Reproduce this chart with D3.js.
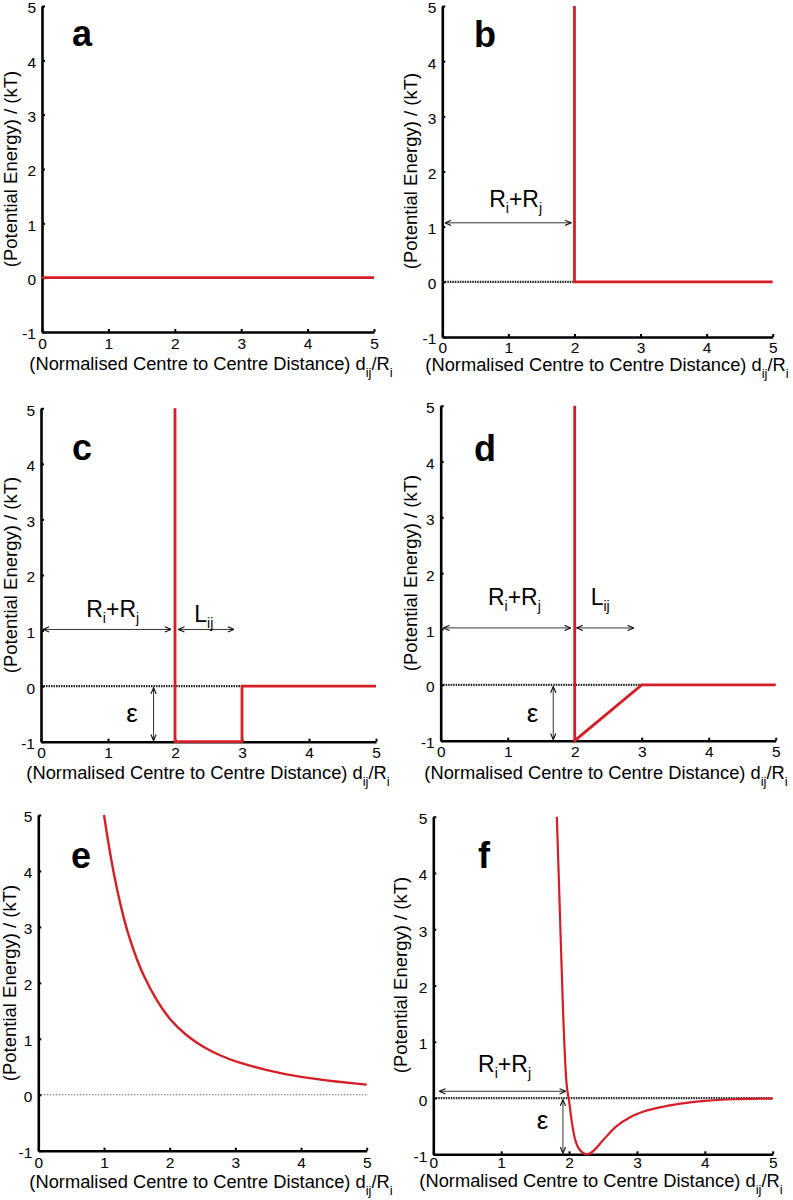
<!DOCTYPE html>
<html><head><meta charset="utf-8">
<script src="https://cdn.jsdelivr.net/npm/d3@7"></script>
<style>
body{margin:0;background:#fff}
svg{display:block}
text{font-family: Arial, "Liberation Sans", Helvetica, sans-serif; fill:#000}
</style>
</head><body>
<svg id="chart" width="793" height="1200"></svg>
<script>
// ---------- data ----------
const xTicks = [0, 1, 2, 3, 4, 5];
const yTicks = [-1, 0, 1, 2, 3, 4, 5];
const panelLetters = ["a", "b", "c", "d", "e", "f"];
const xTitleMain = "(Normalised Centre to Centre Distance) d";
const yTitle = "(Potential Energy) / (kT)";

// a: no interaction
const aX = [0, 5];
const aY = [0, 0];
// b: hard sphere
const bX = [2, 2, 5];
const bY = [5, 0, 0];
// c: square well
const cX = [2, 2, 3, 3, 5];
const cY = [5, -1, -1, 0, 0];
// d: linear well
const dX = [2, 2, 3, 5];
const dY = [5, -1, 0, 0];
// e: soft repulsion
const eX = [1, 1.1, 1.2, 1.3, 1.4, 1.5, 1.6, 1.8, 2.0, 2.25, 2.5, 2.75, 3.0, 3.5, 4.0, 4.5, 5.0];
const eY = [5, 4.25, 3.65, 3.15, 2.75, 2.42, 2.13, 1.68, 1.34, 1.06, 0.86, 0.71, 0.59, 0.43, 0.31, 0.24, 0.18];
// f: Lennard-Jones-like
const fX = [1.82, 1.87, 1.91, 1.96, 2.0, 2.05, 2.1, 2.2, 2.27, 2.35, 2.5, 2.7, 2.9, 3.1, 3.4, 3.7, 4.0, 4.5, 5.0];
const fY = [5, 3.1, 1.6, 0.3, -0.05, -0.5, -0.78, -0.97, -1.0, -0.95, -0.75, -0.5, -0.34, -0.24, -0.15, -0.09, -0.05, -0.02, -0.01];

// extent of dotted zero reference line per panel
const zeroA = null;
const zeroB = [0, 2];
const zeroC = [0, 3];
const zeroD = [0, 3];
const zeroE = [0, 5];
const zeroF = [0, 5];

// ---------- layout ----------
const RED = "#d41f26";
const panels = [
  {xs: aX, ys: aY, zero: zeroA, box: [42, 374, 6, 332], xpad: 6.4, xt: [211, 370], yt: [17, 169], let: [72, 46], lw: 2.8, zw: 2, curve: d3.curveLinear,
   arrows: [], labels: []},
  {xs: bX, ys: bY, zero: zeroB, box: [442.3, 772.7, 6, 337], xpad: 5, xt: [607, 371], yt: [417, 171], let: [474, 47], lw: 2.8, zw: 2.2, curve: d3.curveLinear,
   arrows: [[0.04, 1.07, 1.95, 1.07]],
   labels: [["RR", 1.11, 1.35]]},
  {xs: cX, ys: cY, zero: zeroC, box: [41, 376, 408.3, 741.7], xpad: 5, xt: [208, 779], yt: [17, 575], let: [72, 460], lw: 2.8, zw: 2.2, curve: d3.curveLinear,
   arrows: [[0.03, 1.02, 1.94, 1.02], [2.05, 1.02, 2.88, 1.02], [1.68, -0.03, 1.68, -0.98]],
   labels: [["RR", 1.07, 1.24], ["L", 2.43, 1.15], ["E", 1.36, -0.65]]},
  {xs: dX, ys: dY, zero: zeroD, box: [440.7, 775.7, 405.7, 740.7], xpad: 5, xt: [606, 779], yt: [417, 573], let: [474, 461], lw: 2.8, zw: 2.2, curve: d3.curveLinear,
   arrows: [[0.04, 1.02, 1.94, 1.02], [2.03, 1.02, 2.88, 1.02], [1.68, -0.03, 1.68, -0.98]],
   labels: [["RR", 1.10, 1.43], ["L", 2.38, 1.43], ["E", 1.37, -0.66]]},
  {xs: eX, ys: eY, zero: zeroE, box: [38.3, 366.7, 815, 1150.7], xpad: 6, xt: [211, 1188], yt: [16, 983], let: [71, 868], lw: 2.4, zw: 1.1, curve: d3.curveBasis,
   arrows: [], labels: []},
  {xs: fX, ys: fY, zero: zeroF, box: [433.3, 772.7, 816.7, 1154.3], xpad: 3, xt: [601, 1187], yt: [407, 975], let: [478, 868], lw: 2.2, zw: 2.2, curve: d3.curveMonotoneX,
   arrows: [[0.09, 0.12, 1.95, 0.12], [1.91, -0.03, 1.91, -0.98]],
   labels: [["RR", 1.05, 0.46], ["E", 1.61, -0.55]]}
];

const svg = d3.select("#chart");
const defs = svg.append("defs");
defs.append("marker").attr("id", "arr")
  .attr("viewBox", "0 0 8 8").attr("refX", 7.5).attr("refY", 4)
  .attr("markerUnits", "userSpaceOnUse").attr("markerWidth", 7).attr("markerHeight", 7)
  .attr("orient", "auto-start-reverse")
  .append("path").attr("d", "M0.5,1 L7.5,4 L0.5,7")
  .attr("fill", "none").attr("stroke", "#111").attr("stroke-width", 1.3);

panels.forEach((p, i) => {
  const x = d3.scaleLinear().domain([0, 5]).range([p.box[0], p.box[1]]);
  const y = d3.scaleLinear().domain([-1, 5]).range([p.box[3], p.box[2]]);
  const g = svg.append("g");

  // dotted zero line
  if (p.zero) {
    g.append("line")
      .attr("x1", x(p.zero[0])).attr("x2", x(p.zero[1]))
      .attr("y1", y(0)).attr("y2", y(0))
      .attr("stroke", "#222").attr("stroke-width", p.zw)
      .attr("stroke-dasharray", p.zw > 1.5 ? "1.5,1" : "1,2");
  }

  // axes
  const xa = g.append("g").attr("transform", `translate(0,${p.box[3]})`)
    .call(d3.axisBottom(x).tickValues(xTicks).tickSizeInner(-3).tickSizeOuter(0).tickPadding(p.xpad).tickFormat(d3.format("d")));
  const ya = g.append("g").attr("transform", `translate(${p.box[0]},0)`)
    .call(d3.axisLeft(y).tickValues(yTicks).tickSizeInner(-3).tickSizeOuter(0).tickPadding(6).tickFormat(d => d < 0 ? "-" + Math.abs(d) : d));
  [xa, ya].forEach(a => {
    a.select(".domain").attr("stroke", "#000").attr("stroke-width", 2.6);
    a.selectAll(".tick line").attr("stroke", "#000").attr("stroke-width", 2);
    a.selectAll(".tick text").attr("font-size", 15.5).attr("font-family", "Arial, 'Liberation Sans', sans-serif").attr("fill", "#111");
  });
  ya.selectAll(".tick text").attr("dy", "0.45em");

  // annotation arrows
  p.arrows.forEach(a => {
    g.append("line")
      .attr("x1", x(a[0])).attr("y1", y(a[1])).attr("x2", x(a[2])).attr("y2", y(a[3]))
      .attr("stroke", "#333").attr("stroke-width", 1)
      .attr("marker-start", "url(#arr)").attr("marker-end", "url(#arr)");
  });

  // annotation labels
  p.labels.forEach(l => {
    if (l[0] === "RR") {
      const t = g.append("text").attr("x", x(l[1])).attr("y", y(l[2])).attr("text-anchor", "middle").attr("font-size", 23);
      t.append("tspan").text("R");
      t.append("tspan").attr("font-size", 14).attr("dy", 6).text("i");
      t.append("tspan").attr("dy", -6).text("+R");
      t.append("tspan").attr("font-size", 14).attr("dy", 6).text("j");
    } else if (l[0] === "L") {
      const t = g.append("text").attr("x", x(l[1])).attr("y", y(l[2])).attr("text-anchor", "middle").attr("font-size", 23);
      t.append("tspan").text("L");
      t.append("tspan").attr("font-size", 14).attr("dy", 6).text("ij");
    } else {
      g.append("text").attr("x", x(l[1])).attr("y", y(l[2])).attr("text-anchor", "middle")
        .attr("font-size", 26).attr("font-family", "'Liberation Serif', 'DejaVu Serif', serif").text("ε");
    }
  });

  // the potential curve
  g.append("path")
    .datum(d3.zip(p.xs, p.ys))
    .attr("d", d3.line().curve(p.curve).x(d => x(d[0])).y(d => y(d[1])))
    .attr("fill", "none").attr("stroke", RED).attr("stroke-width", p.lw)
    .attr("stroke-linejoin", "miter");

  // x title
  const xt = g.append("text").attr("x", p.xt[0]).attr("y", p.xt[1]).attr("text-anchor", "middle").attr("font-size", 18.3);
  xt.append("tspan").text(xTitleMain);
  xt.append("tspan").attr("font-size", 13).attr("dy", 7).text("ij");
  xt.append("tspan").attr("dy", -7).text("/R");
  xt.append("tspan").attr("font-size", 13).attr("dy", 7).text("i");

  // y title
  g.append("text").attr("transform", `translate(${p.yt[0]},${p.yt[1]}) rotate(-90)`)
    .attr("text-anchor", "middle").attr("font-size", 18.5).text(yTitle);

  // panel letter
  g.append("text").attr("x", p.let[0]).attr("y", p.let[1]).attr("font-size", 36).attr("font-weight", "bold")
    .text(panelLetters[i]);
});
</script>
</body></html>
